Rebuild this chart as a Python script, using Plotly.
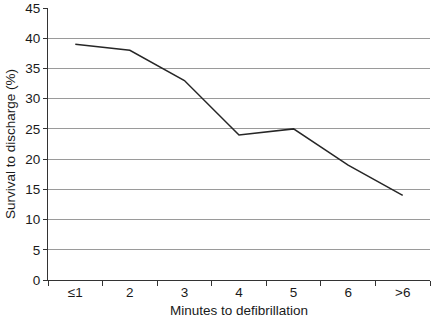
import plotly.graph_objects as go

categories = ["≤1", "2", "3", "4", "5", "6", ">6"]
survival_pct = [39, 38, 33, 24, 25, 19, 14]
y_ticks = [0, 5, 10, 15, 20, 25, 30, 35, 40, 45]

fig = go.Figure(
    go.Scatter(
        x=categories,
        y=survival_pct,
        mode="lines",
        line=dict(color="#262626", width=1.5),
        showlegend=False,
    )
)

font = dict(family="Liberation Sans, Arial, sans-serif", size=13.5, color="#1a1a1a")

fig.update_layout(
    width=432,
    height=322,
    margin=dict(l=48, r=2, t=8, b=42),
    paper_bgcolor="white",
    plot_bgcolor="white",
    font=font,
    xaxis=dict(
        type="category",
        range=[-0.5, len(categories) - 0.5],
        tickson="boundaries",
        ticks="outside",
        ticklen=5,
        tickcolor="#333",
        showline=True,
        linecolor="#333",
        linewidth=1,
        showgrid=False,
        title=dict(text="Minutes to defibrillation", standoff=6, font=font),
        tickfont=font,
    ),
    yaxis=dict(
        range=[0, 45],
        tickvals=y_ticks,
        ticks="outside",
        ticklen=4,
        tickcolor="#333",
        showline=True,
        linecolor="#333",
        linewidth=1,
        showgrid=True,
        gridcolor="#9a9a9a",
        gridwidth=1,
        zeroline=False,
        title=dict(text="Survival to discharge (%)", standoff=6, font=font),
        tickfont=font,
    ),
)

fig.write_html("out.html")
